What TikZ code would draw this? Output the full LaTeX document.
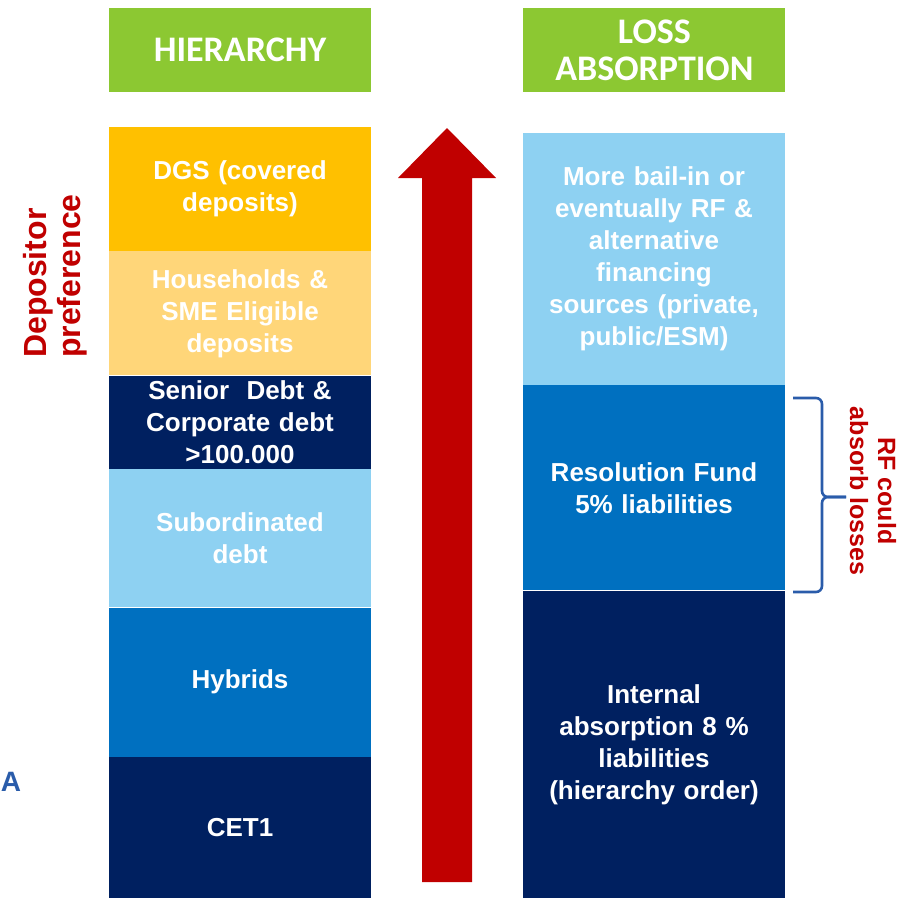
\documentclass[tikz,border=0pt]{standalone}
\usepackage{fontspec}
\setmainfont{Liberation Sans}
\newfontfamily\headfont{Carlito}
\usetikzlibrary{positioning}

\definecolor{headgreen}{HTML}{8CC832}
\definecolor{gold}{HTML}{FFC000}
\definecolor{peach}{HTML}{FFD679}
\definecolor{navy}{HTML}{002060}
\definecolor{skyblue}{HTML}{8ED1F2}
\definecolor{midblue}{HTML}{0070C0}
\definecolor{darkred}{HTML}{C00000}
\definecolor{bracecol}{HTML}{2A5CAA}

\begin{document}
\begin{tikzpicture}
%defines
  [x=1pt,y=-1pt,
header/.style={rectangle,fill=headgreen,text=white,inner sep=0pt,
minimum width=262pt,minimum height=84pt,align=center,
font=\headfont\bfseries\fontsize{36}{37}\selectfont},
tier/.style={rectangle,text=white,inner sep=0pt,minimum width=262pt,
text width=250pt,align=center,font=\bfseries\fontsize{26}{32}\selectfont},
tag/.style={text=darkred,inner sep=0pt,font=\bfseries\fontsize{32}{34}\selectfont}]
\useasboundingbox (0,0) rectangle (913,897);

% column headers
\node[header] (hierarchy) at (240,50) {HIERARCHY};
\node[header] (loss) [right=152pt of hierarchy] {LOSS\\ABSORPTION};

% creditor hierarchy, top to bottom
\node[tier,fill=gold,minimum height=124pt] (dgs) at (240,189) {DGS (covered\\deposits)};
\node[tier,fill=peach,minimum height=124pt] (households) [below=0pt of dgs] {Households \&\\SME Eligible\\deposits};
\node[tier,fill=navy,minimum height=93pt] (senior) [below=0pt of households] {Senior\ \ Debt \&\\Corporate debt\\>100.000};
\node[tier,fill=skyblue,minimum height=138pt] (subordinated) [below=0pt of senior] {Subordinated\\debt};
\node[tier,fill=midblue,minimum height=149pt] (hybrids) [below=0pt of subordinated] {Hybrids};
\node[tier,fill=navy,minimum height=142pt] (cet1) [below=0pt of hybrids] {CET1};

% loss absorption layers
\node[tier,fill=skyblue,minimum height=252pt] (bailin) at (654,259) {More bail-in or\\eventually RF \&\\alternative\\financing\\sources (private,\\public/ESM)};
\node[tier,fill=midblue,minimum height=205pt] (fund) [below=0pt of bailin] {Resolution Fund\\5\% liabilities};
\node[tier,fill=navy,minimum height=307pt] (internal) [below=0pt of fund] {Internal\\absorption 8 \%\\liabilities\\(hierarchy order)};

% big upward arrow
\fill[darkred] (422,882) -- (422,178) -- (398,178) -- (447,128) -- (496,178)
  -- (472,178) -- (472,882) -- cycle;

% brace next to the fund
\draw[bracecol,line width=2.6pt,rounded corners=6pt] (793,398) -- (822,398) -- (822,497) -- (846,497);
\draw[bracecol,line width=2.6pt,rounded corners=6pt] (793,592) -- (822,592) -- (822,497) -- (846,497);

\node[tag,rotate=90,align=left] (depositor) at (55,276) {Depositor\\preference};
\node[tag,rotate=-90,align=center,font=\bfseries\fontsize{25}{28}\selectfont] (rfnote) at (873,491) {RF could\\absorb losses};
\node[text=bracecol,inner sep=0pt,font=\bfseries\fontsize{28}{30}\selectfont] (mark) at (11,782) {A};
\end{tikzpicture}
\end{document}
